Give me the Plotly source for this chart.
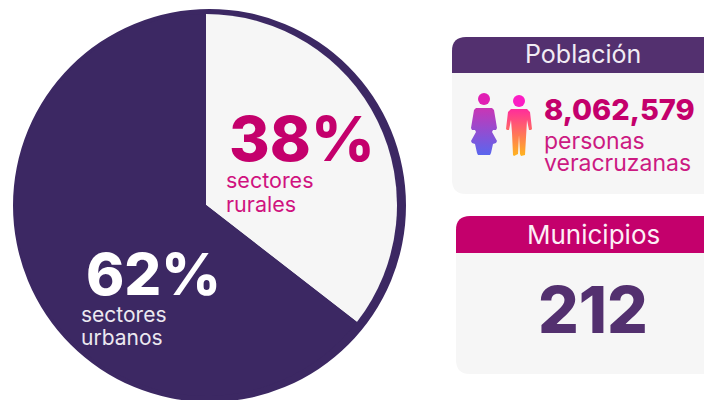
import plotly.graph_objects as go

# Data
slice_labels = ["sectores rurales", "sectores urbanos"]
slice_shares = [35.5, 64.5]  # as drawn in the picture
pct_labels = ["38%", "62%"]
poblacion = "8,062,579"
municipios = "212"

PURPLE = "#3c2863"
HEAD_P = "#53306f"
MAG = "#c4006c"
BODY = "#f6f6f6"
FONT = "Inter"

W, H = 704, 400
fig = go.Figure()


def card(x0, y0, hdr, y1, x1=720, r=14):
    return (f"M{x0},{y0+r} Q{x0},{y0} {x0+r},{y0} L{x1},{y0} L{x1},{y1} L{x0+r},{y1} "
            f"Q{x0},{y1} {x0},{y1-r} Z")


def header(x0, y0, hdr, x1=720, r=14):
    return f"M{x0},{hdr} L{x0},{y0+r} Q{x0},{y0} {x0+r},{y0} L{x1},{y0} L{x1},{hdr} Z"


shapes = [
    dict(type="circle", xref="x", yref="y", x0=13, x1=406, y0=9, y1=402,
         fillcolor=PURPLE, line_width=0, layer="below"),
    dict(type="path", xref="x", yref="y", path=card(452, 37, 73, 194), fillcolor=BODY, line_width=0, layer="below"),
    dict(type="path", xref="x", yref="y", path=header(452, 37, 73), fillcolor=HEAD_P, line_width=0, layer="below"),
    dict(type="path", xref="x", yref="y", path=card(456, 216, 253, 374), fillcolor=BODY, line_width=0, layer="below"),
    dict(type="path", xref="x", yref="y", path=header(456, 216, 253), fillcolor=MAG, line_width=0, layer="below"),
    dict(type="circle", xref="x", yref="y", x0=478, x1=490, y0=93, y1=105, fillcolor="#e01fb4", line_width=0, layer="below"),
    dict(type="circle", xref="x", yref="y", x0=513, x1=525, y0=95, y1=107, fillcolor="#fb1ec4", line_width=0, layer="below"),
]

# Icon silhouettes
woman_x = [476, 492, 494, 496, 497, 496, 493, 492, 494, 497, 496, 493, 491, 490, 478, 477, 475, 472, 471, 474, 476, 475, 472, 471, 472, 474, 476]
woman_y = [108, 108, 110, 122, 128, 130, 130, 132, 136, 141, 143, 144, 153, 155, 155, 153, 144, 143, 141, 136, 132, 130, 130, 128, 122, 110, 108]
man_x = [511, 527, 530, 532, 531, 529, 527, 526, 525, 521, 520, 519, 518, 514, 513, 512, 511, 509, 507, 506, 508, 511]
man_y = [109, 109, 112, 129, 130, 130, 120, 133, 155, 156, 154, 135, 154, 156, 155, 133, 120, 130, 130, 129, 112, 109]

fig.add_trace(go.Scatter(x=woman_x, y=woman_y, mode="lines", line=dict(width=0), fill="toself",
                         fillgradient=dict(type="vertical", colorscale=[[0, "#5a66ee"], [1, "#c935b5"]]),
                         hoverinfo="skip", showlegend=False))
fig.add_trace(go.Scatter(x=man_x, y=man_y, mode="lines", line=dict(width=0), fill="toself",
                         fillgradient=dict(type="vertical", colorscale=[[0, "#ffb51e"], [1, "#ff2c9c"]]),
                         hoverinfo="skip", showlegend=False))

fig.add_trace(go.Pie(
    labels=slice_labels, values=slice_shares, sort=False, direction="clockwise", rotation=0,
    marker=dict(colors=[BODY, PURPLE], line=dict(width=0)),
    textinfo="none", hoverinfo="label", showlegend=False,
    domain=dict(x=[(206 - 191) / W, (206 + 191) / W], y=[(H - 396) / H, (H - 14) / H]),
))


def txt(s, x, y, size, color, weight=400, anchor="left"):
    fig.add_annotation(text=s, x=x, y=y, xref="x", yref="y", xanchor=anchor, yanchor="middle",
                       showarrow=False, font=dict(family=FONT, size=size, color=color, weight=weight))


txt(pct_labels[0], 227, 138, 62, MAG, 800)
txt("sectores", 224, 180, 21.5, "#d0127f", 400)
txt("rurales", 224, 204, 21.5, "#d0127f", 400)
txt(pct_labels[1], 84, 274, 58, "#ffffff", 800)
txt("sectores", 79, 314, 21, "#ece8f0", 400)
txt("urbanos", 79, 337, 21, "#ece8f0", 400)
txt("Población", 583, 54, 25, "#f1ecf4", 400, "center")
txt(poblacion, 542, 109, 29, MAG, 800)
txt("personas", 542, 141, 23, "#cc1a82", 400)
txt("veracruzanas", 542, 163, 23, "#cc1a82", 400)
txt("Municipios", 593, 234, 26, "#fdeef6", 400, "center")
txt(municipios, 593, 309, 64, HEAD_P, 800, "center")

fig.update_layout(
    width=W, height=H, margin=dict(l=0, r=0, t=0, b=0),
    paper_bgcolor="#ffffff", plot_bgcolor="rgba(0,0,0,0)", shapes=shapes,
    xaxis=dict(range=[0, W], visible=False, fixedrange=True),
    yaxis=dict(range=[H, 0], visible=False, fixedrange=True),
)
fig.write_html("out.html", config=dict(displayModeBar=False),
               post_script="document.body.style.margin='0';document.documentElement.style.overflow='hidden';")
